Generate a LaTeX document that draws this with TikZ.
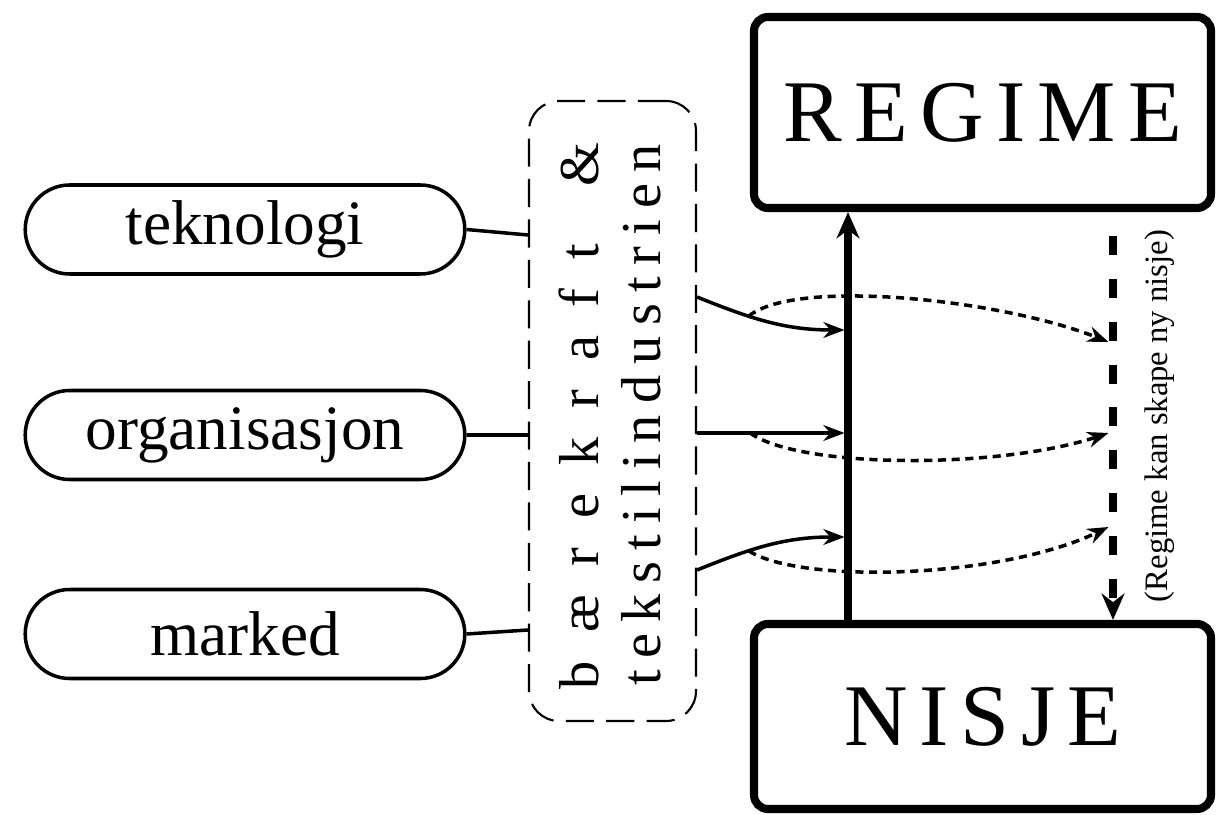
\documentclass[tikz,border=0pt]{standalone}
\usepackage{graphicx}
\usepackage{fontspec}
\setmainfont{Liberation Serif}
\usetikzlibrary{shapes, shapes.misc, arrows.meta, positioning}

\begin{document}
\begin{tikzpicture}[
        every node/.style={font=\fontsize{9}{11}\selectfont},
        pill/.style={rounded rectangle, draw, line width=1pt, minimum width=4.63cm, minimum height=0.89cm},
        sektorbox/.style={rectangle, draw, line width=0.6pt, rounded corners=0.3cm, dash pattern=on 8pt off 3.5pt, minimum width=1.67cm, minimum height=6.2cm},
        nivaa/.style={rectangle, draw, line width=2.3pt, rounded corners=0.14cm, minimum width=4.57cm},
        inflow/.style={-{Stealth[length=6pt, width=4.5pt]}, line width=1pt},
        prikk/.style={-{Stealth[length=6pt, width=4.5pt]}, line width=1pt, dash pattern=on 2.3pt off 1.6pt},
        hoved/.style={-{Stealth[length=7.5pt, width=6.5pt]}, line width=2.1pt}
    ]
        \useasboundingbox (0,0) rectangle (12.16,8.14);

        \node[pill] (tek) at (2.45, 5.845) {\scalebox{2}{teknologi}};
        \node[pill] (org) at (2.45, 3.79) {\scalebox{2}{organisasjon}};
        \node[pill] (mark) at (2.45, 1.80) {\scalebox{2}{marked}};

        \node[sektorbox] (sektor) at (6.125, 4.03) {};
        \node[rotate=90] (linje1) at (5.79, 3.98) {\scalebox{1.78}{\makebox[3.07cm][s]{b\hfill æ\hfill r\hfill e\hfill k\hfill r\hfill a\hfill f\hfill t\hfill\hfill \&}}};
        \node[rotate=90] (linje2) at (6.41, 3.99) {\scalebox{1.78}{\makebox[3.04cm][s]{t\hfill e\hfill k\hfill s\hfill t\hfill i\hfill l\hfill i\hfill n\hfill d\hfill u\hfill s\hfill t\hfill r\hfill i\hfill e\hfill n}}};

        \node[nivaa, minimum height=1.91cm] (regime) at (9.825, 7.015) {\scalebox{2.78}{\makebox[1.435cm][s]{R\hfill E\hfill G\hfill I\hfill M\hfill E}}};
        \node[nivaa, minimum height=1.85cm] (nisje) at (9.825, 0.975) {\scalebox{2.78}{\makebox[0.996cm][s]{N\hfill I\hfill S\hfill J\hfill E}}};

        \node[rotate=90, font=\fontsize{9.3}{11}\selectfont] (merknad) at (11.60, 3.98) {(Regime kan skape ny nisje)};

        \draw[line width=1pt] (tek.east) -- ([yshift=1.76cm]sektor.west);
        \draw[line width=1pt] (org.east) -- ([yshift=-0.24cm]sektor.west);
        \draw[line width=1pt] (mark.east) -- ([yshift=-2.19cm]sektor.west);

        \draw[hoved] ([xshift=-1.345cm]nisje.north) -- ([xshift=-1.345cm]regime.south);
        \draw[hoved, dash pattern=on 5.4pt off 6.8pt, dash phase=5.4pt] ([xshift=1.305cm]regime.south) -- ([xshift=1.305cm]nisje.north);

        \coordinate (inn1) at (8.445, 4.84);
        \coordinate (inn2) at (8.445, 3.81);
        \coordinate (inn3) at (8.445, 2.77);
        \coordinate (ut1) at (11.085, 4.72);
        \coordinate (ut2) at (11.085, 3.81);
        \coordinate (ut3) at (11.085, 2.87);

        \draw[inflow] ([yshift=1.14cm]sektor.east) to[out=-22, in=180] coordinate[pos=0.35] (fra1) (inn1);
        \draw[inflow] ([yshift=-0.22cm]sektor.east) -- coordinate[pos=0.36] (fra2) (inn2);
        \draw[inflow] ([yshift=-1.59cm]sektor.east) to[out=22, in=180] coordinate[pos=0.35] (fra3) (inn3);

        \draw[prikk] (fra1) .. controls (7.95, 5.36) and (10.0, 5.15) .. (ut1);
        \draw[prikk] (fra2) .. controls (8.0, 3.45) and (10.0, 3.45) .. (ut2);
        \draw[prikk] (fra3) .. controls (8.0, 2.30) and (10.0, 2.35) .. (ut3);
    \end{tikzpicture}
\end{document}
